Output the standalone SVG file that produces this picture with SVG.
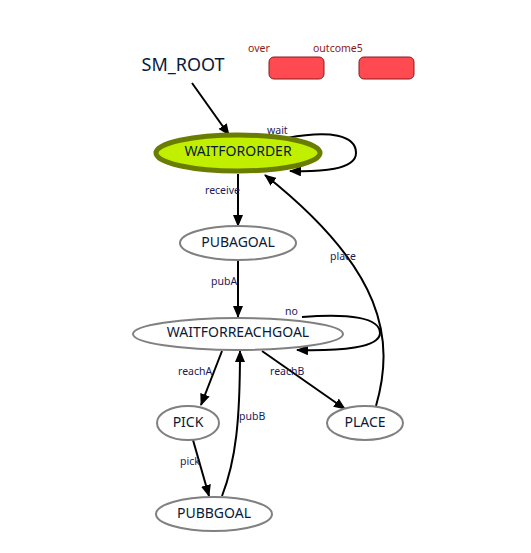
<svg xmlns="http://www.w3.org/2000/svg" width="531" height="553" viewBox="0 0 531 553">
<defs>
<marker id="ah" markerWidth="12" markerHeight="10" refX="11" refY="5" orient="auto" markerUnits="userSpaceOnUse">
<path d="M0,0 L12,5 L0,10 Z" fill="#000"/>
</marker>
<style>
.st{fill:#fff;stroke:#808080;stroke-width:2}
.nl{font-family:"Noto Sans","Open Sans",sans-serif;font-size:14px;fill:#0a1a3a;text-anchor:middle}
.el{font-family:"Noto Sans","Open Sans",sans-serif;font-size:10.5px;fill:#1a1a5a}
.ol{font-family:"Noto Sans","Open Sans",sans-serif;font-size:10.5px;fill:#8b1a1a}
.e{fill:none;stroke:#000;stroke-width:2;marker-end:url(#ah)}
.out{fill:#ff4a52;stroke:#8b1a1a;stroke-width:1}
</style>
</defs>
<rect width="531" height="553" fill="#fff"/>
<text x="183" y="71" font-family="Noto Sans,Open Sans,sans-serif" font-size="18" fill="#0a1a3a" text-anchor="middle">SM_ROOT</text>
<g id="outcome-over">
<rect class="out" x="269" y="57" width="55" height="22" rx="5"/>
<text class="ol" x="248" y="52">over</text>
</g>
<g id="outcome-outcome5">
<rect class="out" x="359" y="57" width="55" height="22" rx="5"/>
<text class="ol" x="313" y="52">outcome5</text>
</g>
<g id="connectors">
<path class="e" d="M192,83 L229,135"/>
<path class="e" d="M287,138 C330,130 356,135 356,153 C356,170 320,172 290,171"/>
<text class="el" x="267" y="134">wait</text>
<path class="e" d="M238,174 L238,226"/>
<text class="el" x="205" y="194">receive</text>
<path class="e" d="M238,261 L238,317"/>
<text class="el" x="211" y="285">pubA</text>
<path class="e" d="M302,317 C350,313 380,318 380,333 C380,348 340,351 297,350"/>
<text class="el" x="285" y="315">no</text>
<path class="e" d="M376,406 C395,340 385,270 265,175"/>
<text class="el" x="330" y="260">place</text>
<path class="e" d="M222,351 L201,405"/>
<text class="el" x="178" y="375">reachA</text>
<path class="e" d="M262,351 L345,409"/>
<text class="el" x="270" y="375">reachB</text>
<path class="e" d="M193,440 L209,496"/>
<text class="el" x="180" y="465">pick</text>
<path class="e" d="M222,496 C236,460 240,420 240,351"/>
<text class="el" x="239" y="420">pubB</text>
</g>
<g id="WAITFORORDER">
<ellipse cx="238" cy="153" rx="82" ry="18" fill="#c0f000" stroke="#6b7d00" stroke-width="5"/>
<text class="nl" x="238" y="156">WAITFORORDER</text>
</g>
<g id="PUBAGOAL">
<ellipse class="st" cx="238" cy="243" rx="58" ry="17"/>
<text class="nl" x="238" y="247">PUBAGOAL</text>
</g>
<g id="WAITFORREACHGOAL">
<ellipse class="st" cx="238" cy="334" rx="105" ry="16"/>
<text class="nl" x="238" y="337">WAITFORREACHGOAL</text>
</g>
<g id="PICK">
<ellipse class="st" cx="188" cy="423" rx="31" ry="17"/>
<text class="nl" x="188" y="427">PICK</text>
</g>
<g id="PLACE">
<ellipse class="st" cx="365" cy="423" rx="38" ry="17"/>
<text class="nl" x="365" y="427">PLACE</text>
</g>
<g id="PUBBGOAL">
<ellipse class="st" cx="214" cy="514" rx="58" ry="17"/>
<text class="nl" x="214" y="518">PUBBGOAL</text>
</g>
</svg>
